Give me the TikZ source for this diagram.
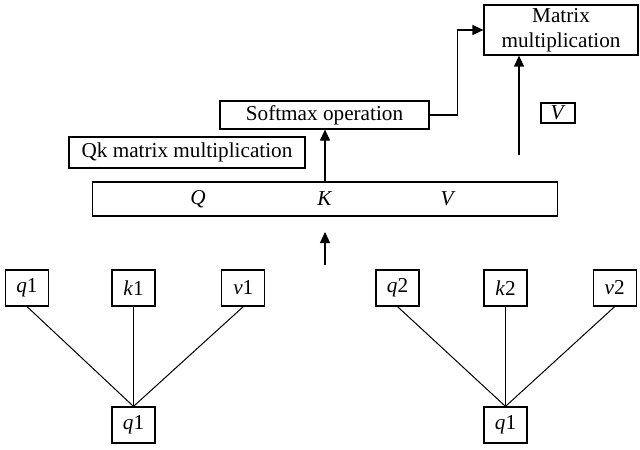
\documentclass[tikz,border=0pt]{standalone}
\usepackage{fontspec}
\setmainfont{Liberation Serif}
\usetikzlibrary{arrows.meta}
\newcommand{\mvar}[1]{\textit{#1}}

\begin{document}
\begin{tikzpicture}[
		x=0.5pt, y=-0.5pt,
		every node/.style={rectangle, inner sep=0pt, font=\fontsize{10.6}{12.5}\selectfont},
		box/.style={draw, line width=0.6pt},
		leaf/.style={box, minimum width=21.5pt, minimum height=18pt},
		arr/.style={-{Triangle[width=5pt, length=5.5pt]}, line width=0.6pt},
		link/.style={line width=0.5pt}
	]
  \useasboundingbox (0,0) rectangle (640,449);
  \node (mm) [box, minimum width=77pt, minimum height=25pt, align=center] at (561,30) {Matrix\\multiplication};
  \node (softmax) [box, minimum width=104.5pt, minimum height=14pt] at (324.5,115) {Softmax operation};
  \node (qk) [box, minimum width=118pt, minimum height=15.5pt] at (187,152.5) {Qk matrix multiplication};
  \node (v_box) [box, minimum width=17pt, minimum height=10pt] at (558,113) {\mvar{V}};
  \node (qkv) [box, minimum width=232.5pt, minimum height=17pt] at (325,199) {};
  \node (Q) at (198,199) {\mvar{Q}};
  \node (K) at (325,199) {\mvar{K}};
  \node (V) at (448,199) {\mvar{V}};
  \coordinate (v_in) at (519,155);
  \coordinate (in_low) at (325,265);
  \coordinate (in_high) at (325,232);
  \node (q_1) [leaf] at (27,288) {\mvar{q}1};
  \node (k_1) [leaf] at (133.5,288) {\mvar{k}1};
  \node (v_1) [leaf] at (243.3,288) {\mvar{v}1};
  \node (r_1) [leaf] at (133.5,425) {\mvar{q}1};
  \node (q_2) [leaf] at (397.5,288) {\mvar{q}2};
  \node (k_2) [leaf] at (505.5,288) {\mvar{k}2};
  \node (v_2) [leaf] at (614.7,288) {\mvar{v}2};
  \node (r_2) [leaf] at (505.5,425) {\mvar{q}1};
  \draw [arr] (qkv.north) -- (qkv.north |- softmax.south);
  \draw [arr] (softmax.east) -- ++(27.5,0) |- (mm.west);
  \draw [arr] (v_in) -- (v_in |- mm.south);
  \draw [arr] (in_low) -- (in_high);
  \foreach \n in {q_1, k_1, v_1}
    \draw [link] (\n.south) -- (r_1.north);
  \foreach \n in {q_2, k_2, v_2}
    \draw [link] (\n.south) -- (r_2.north);
\end{tikzpicture}
\end{document}
